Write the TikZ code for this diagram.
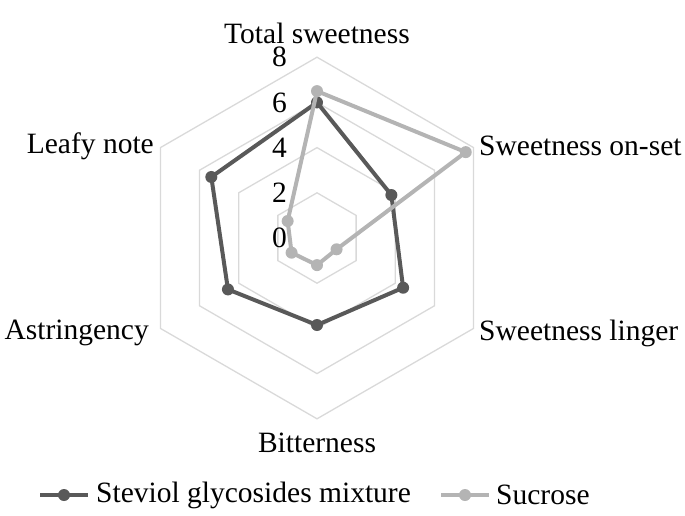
\documentclass[tikz,border=0pt]{standalone}
\usepackage{fontspec}
\setmainfont{Liberation Serif}
\usetikzlibrary{calc}
\begin{document}
\begin{tikzpicture}[x=1pt,y=-1pt,
  lbl/.style={font=\fontsize{29.5}{32}\selectfont, inner sep=0pt},
  grid/.style={draw=gridc, line width=1.3pt},
  ser/.style={line width=4pt, line join=round},
  dot/.style={circle, inner sep=0pt, minimum size=12pt}]
\definecolor{gridc}{HTML}{D9D9D9}
\definecolor{darkc}{HTML}{595959}
\definecolor{lightc}{HTML}{B4B4B4}
\useasboundingbox (0,0) rectangle (685,515);
\coordinate (O) at (317,238);
\def\u{22.6}
\foreach \r in {2,4,6,8}
  \draw[grid] ($(O)+(-90:\r*\u)$) \foreach \a in {-30,30,90,150,-150} {-- ($(O)+(\a:\r*\u)$)} -- cycle;
\foreach \v [count=\i] in {6,3.8,4.4,3.85,4.55,5.4}
  \coordinate (d\i) at ($(O)+({-90+60*(\i-1)}:\v*\u)$);
\foreach \v [count=\i] in {6.5,7.6,1.0,1.2,1.3,1.5}
  \coordinate (s\i) at ($(O)+({-90+60*(\i-1)}:\v*\u)$);
\draw[ser, darkc] (d1)--(d2)--(d3)--(d4)--(d5)--(d6)--cycle;
\foreach \i in {1,...,6} \node[dot, fill=darkc] (dd\i) at (d\i) {};
\draw[ser, lightc] (s1)--(s2)--(s3)--(s4)--(s5)--(s6)--cycle;
\foreach \i in {1,...,6} \node[dot, fill=lightc] (sd\i) at (s\i) {};
\foreach \v in {0,2,4,6,8}
  \node[lbl, anchor=east] (n\v) at (287,{238-\v*\u}) {\v};
\node[lbl] (t1) at (317,33) {Total sweetness};
\node[lbl, anchor=west] (t2) at (479,146) {Sweetness on-set};
\node[lbl, anchor=west] (t3) at (479,333) {Sweetness linger};
\node[lbl] (t4) at (317,443) {Bitterness};
\node[lbl, anchor=east] (t5) at (149,333) {Astringency};
\node[lbl, anchor=east] (t6) at (154,146) {Leafy note};
\coordinate (la) at (40,495); \coordinate (lb) at (88,495);
\draw[ser, darkc] (la) -- (lb);
\node[dot, fill=darkc] (lm1) at (64,495) {};
\node[lbl, anchor=west] (lt1) at (96,495) {Steviol glycosides mixture};
\coordinate (lc) at (441,495); \coordinate (ld) at (489,495);
\draw[ser, lightc] (lc) -- (ld);
\node[dot, fill=lightc] (lm2) at (465,495) {};
\node[lbl, anchor=west] (lt2) at (496,495) {Sucrose};
\end{tikzpicture}
\end{document}
